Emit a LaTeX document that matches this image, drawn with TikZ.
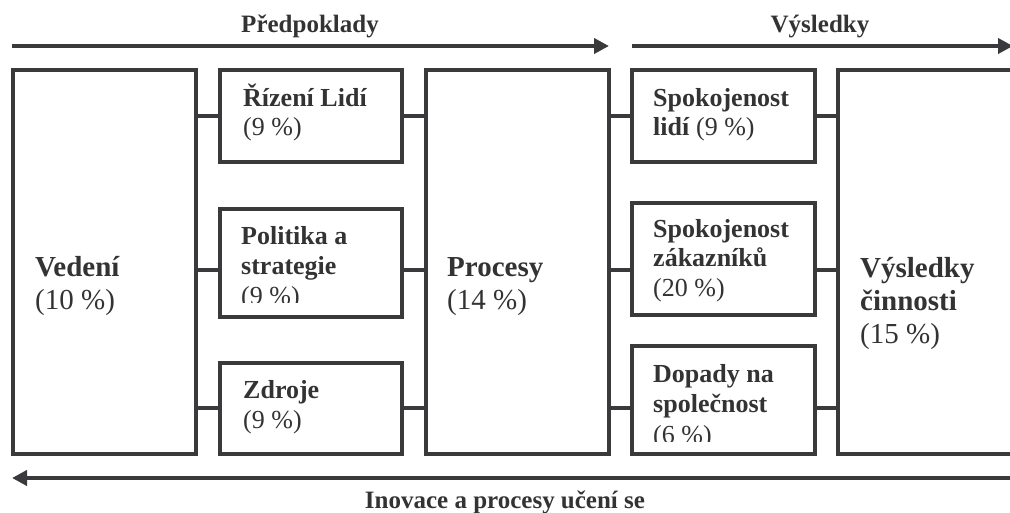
\documentclass[tikz,border=0pt]{standalone}
\usepackage{fontspec}
\setmainfont{Liberation Serif}
\usetikzlibrary{arrows.meta}
\definecolor{ink}{HTML}{3A3A3D}
\definecolor{txt}{HTML}{333333}

\begin{document}
\begin{tikzpicture}[x=1pt,y=-1pt,
  panel/.style={draw=ink, line width=3.5pt, inner sep=0pt, outer sep=0pt, anchor=north west},
  link/.style={draw=ink, line width=3.5pt},
  flow/.style={draw=ink, line width=4.5pt, -{Triangle[length=15pt,width=15pt]}},
  small/.style={font=\fontsize{26}{30}\selectfont, text=txt, anchor=base west, inner sep=0pt},
  big/.style={font=\fontsize{29}{33}\selectfont, text=txt, anchor=base west, inner sep=0pt},
  head/.style={font=\fontsize{25}{29}\selectfont\bfseries, text=txt, anchor=base, inner sep=0pt},
]
\useasboundingbox (0,0) rectangle (1010,513);

% boxes
\node[panel, minimum width=183pt, minimum height=384pt] (ved) at (13,70) {};
\node[panel, minimum width=182pt, minimum height=92pt]  (riz) at (220,70) {};
\node[panel, minimum width=182pt, minimum height=108pt] (pol) at (220,209) {};
\node[panel, minimum width=182pt, minimum height=91pt]  (zdr) at (220,363) {};
\node[panel, minimum width=183pt, minimum height=384pt] (pro) at (426,70) {};
\node[panel, minimum width=183pt, minimum height=92pt]  (spl) at (632,70) {};
\node[panel, minimum width=183pt, minimum height=112pt] (spz) at (632,203) {};
\node[panel, minimum width=183pt, minimum height=108pt] (dop) at (632,346) {};
\node[panel, minimum width=190pt, minimum height=384pt] (vys) at (838,70) {};

% connector levels
\coordinate (r1) at (0,116);
\coordinate (r2) at (0,270);
\coordinate (r3) at (0,408);

\draw[link] (ved.east |- r1) -- (riz.west |- r1);
\draw[link] (ved.east |- r2) -- (pol.west |- r2);
\draw[link] (ved.east |- r3) -- (zdr.west |- r3);
\draw[link] (riz.east |- r1) -- (pro.west |- r1);
\draw[link] (pol.east |- r2) -- (pro.west |- r2);
\draw[link] (zdr.east |- r3) -- (pro.west |- r3);
\draw[link] (pro.east |- r1) -- (spl.west |- r1);
\draw[link] (pro.east |- r2) -- (spz.west |- r2);
\draw[link] (pro.east |- r3) -- (dop.west |- r3);
\draw[link] (spl.east |- r1) -- (vys.west |- r1);
\draw[link] (spz.east |- r2) -- (vys.west |- r2);
\draw[link] (dop.east |- r3) -- (vys.west |- r3);

% flow arrows
\coordinate (p1) at (12,46);
\coordinate (p2) at (609,46);
\coordinate (q1) at (632,46);
\coordinate (q2) at (1013,46);
\coordinate (b1) at (1015,478);
\coordinate (b2) at (12,478);
\draw[flow] (p1) -- (p2);
\draw[flow] (q1) -- (q2);
\draw[flow] (b1) -- (b2);

\node[head] (th1) at (310,33) {Předpoklady};
\node[head] (th2) at (820,33) {Výsledky};
\node[head] (th3) at (505,508) {Inovace a procesy učení se};

% text in the large boxes
\node[big] (t1) at (35,277) {\bfseries Vedení};
\node[big] (t2) at (35,309) {(10 \%)};
\node[big] (t3) at (447,277) {\bfseries Procesy};
\node[big] (t4) at (447,309) {(14 \%)};
\node[big] (t5) at (860,278) {\bfseries Výsledky};
\node[big] (t6) at (860,310) {\bfseries činnosti};
\node[big] (t7) at (860,343) {(15 \%)};

% text in the small boxes
\node[small] (s1) at (243,107) {\bfseries Řízení Lidí};
\node[small] (s2) at (243,136) {(9 \%)};
\node[small] (s3) at (241,245) {\bfseries Politika a};
\node[small] (s4) at (241,275) {\bfseries strategie};
\begin{scope}
  \clip (222,282) rectangle (400,303);
  \node[small] (s5) at (241,305) {(9 \%)};
\end{scope}
\node[small] (s6) at (243,398) {\bfseries Zdroje};
\node[small] (s7) at (243,428) {(9 \%)};
\node[small] (s8) at (653,107) {\bfseries Spokojenost};
\node[small] (s9) at (653,136) {\textbf{lidí} (9 \%)};
\node[small] (s10) at (653,238) {\bfseries Spokojenost};
\node[small] (s11) at (653,267) {\bfseries zákazníků};
\node[small] (s12) at (653,297) {(20 \%)};
\node[small] (s13) at (653,382) {\bfseries Dopady na};
\node[small] (s14) at (653,412) {\bfseries společnost};
\begin{scope}
  \clip (634,420) rectangle (813,441);
  \node[small] (s15) at (653,443) {(6 \%)};
\end{scope}
\end{tikzpicture}
\end{document}
